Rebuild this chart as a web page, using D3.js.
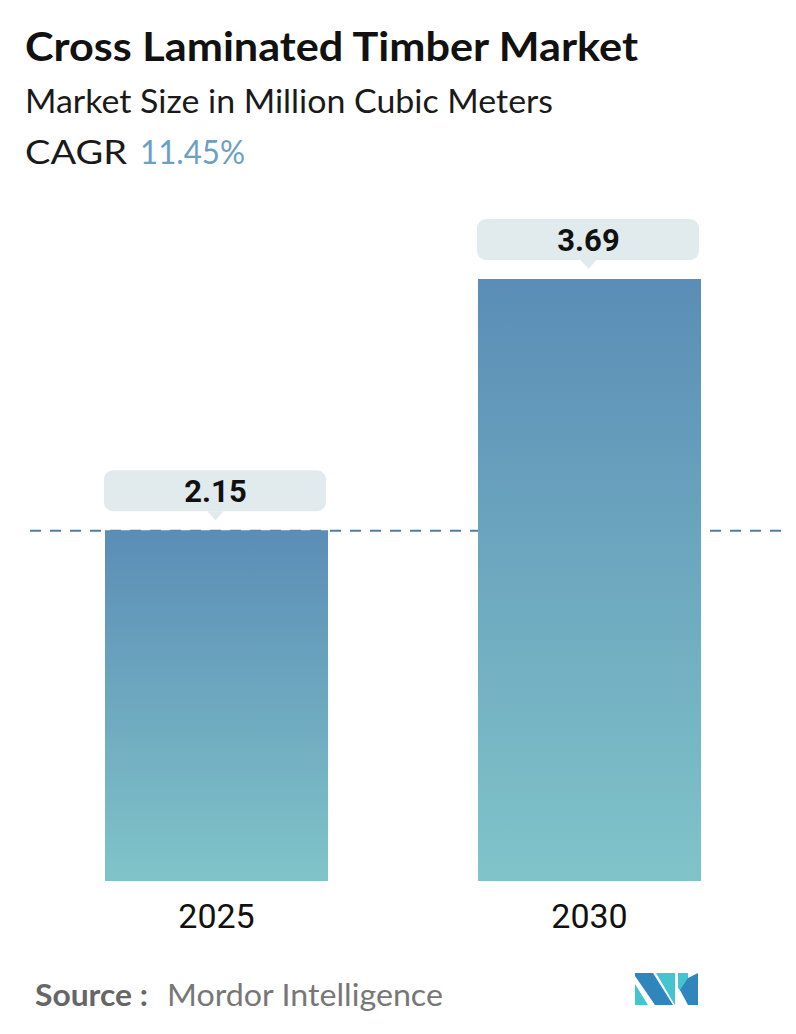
<!DOCTYPE html>
<html>
<head>
<meta charset="utf-8">
<script src="https://cdn.jsdelivr.net/npm/d3@7"></script>
<style>
  body { margin: 0; background: #fff; }
  svg { display: block; }
</style>
</head>
<body>
<div id="graph"></div>
<script>
// chart values
var years = ["2025", "2030"];
var values = [2.15, 3.69];
var valueLabels = ["2.15", "3.69"];
var cagr = "11.45%";

var width = 796,
    height = 1034;

var svg = d3.select("#graph")
    .append("svg")
    .attr("width", width)
    .attr("height", height);

// gradient for the bars
var defs = svg.append("defs");
var grad = defs.append("linearGradient")
    .attr("id", "barGrad")
    .attr("x1", 0).attr("y1", 0)
    .attr("x2", 0).attr("y2", 1);
grad.append("stop").attr("offset", "0%").attr("stop-color", "#5b8db6");
grad.append("stop").attr("offset", "100%").attr("stop-color", "#80c4c9");

// titles
svg.append("text")
    .attr("x", 25)
    .attr("y", 61)
    .attr("textLength", 613)
    .attr("lengthAdjust", "spacingAndGlyphs")
    .style("font-family", "Lato")
    .style("font-weight", "bold")
    .style("font-size", "41px")
    .style("fill", "#111")
    .text("Cross Laminated Timber Market");

svg.append("text")
    .attr("x", 25)
    .attr("y", 113)
    .attr("textLength", 528)
    .attr("lengthAdjust", "spacingAndGlyphs")
    .style("font-family", "Lato")
    .style("font-size", "32px")
    .style("fill", "#1a1a1a")
    .text("Market Size in Million Cubic Meters");

svg.append("text")
    .attr("x", 25)
    .attr("y", 164)
    .attr("textLength", 102)
    .attr("lengthAdjust", "spacingAndGlyphs")
    .style("font-family", "Lato")
    .style("font-size", "32px")
    .style("fill", "#1a1a1a")
    .text("CAGR");

svg.append("text")
    .attr("x", 140)
    .attr("y", 164)
    .attr("textLength", 105)
    .attr("lengthAdjust", "spacingAndGlyphs")
    .style("font-family", "Lato")
    .style("font-size", "32px")
    .style("fill", "#6b9fc6")
    .text(cagr);

// scales
var x = d3.scaleBand()
    .domain(years)
    .range([30, 776])
    .paddingInner(0.402)
    .paddingOuter(0.201);

var y = d3.scaleLinear()
    .domain([0, d3.max(values)])
    .range([881, 279]);

var data = years.map(function(d, i) {
  return { year: d, value: values[i], label: valueLabels[i] };
});

// dashed reference line at first value
svg.append("line")
    .attr("x1", 30)
    .attr("x2", 786)
    .attr("y1", y(values[0]) + 0.5)
    .attr("y2", y(values[0]) + 0.5)
    .style("stroke", "#4d7ea8")
    .style("stroke-width", 2)
    .style("stroke-dasharray", "11,9");

// bars
svg.selectAll(".bar")
    .data(data)
    .enter()
    .append("rect")
    .attr("class", "bar")
    .attr("x", d => x(d.year))
    .attr("y", d => y(d.value))
    .attr("width", x.bandwidth())
    .attr("height", d => y(0) - y(d.value))
    .style("fill", "url(#barGrad)");

// value callouts
var callout = svg.selectAll(".callout")
    .data(data)
    .enter()
    .append("g")
    .attr("class", "callout");

callout.append("rect")
    .attr("x", d => x(d.year) - 1)
    .attr("y", d => y(d.value) - 60)
    .attr("width", x.bandwidth() - 1)
    .attr("height", 41)
    .attr("rx", 9)
    .style("fill", "#e1eaed");

callout.append("path")
    .attr("d", function(d) {
      var cx = x(d.year) + x.bandwidth() / 2 - 1;
      var top = y(d.value) - 19;
      return "M" + (cx - 8) + "," + top + "L" + cx + "," + (top + 9) + "L" + (cx + 8) + "," + top + "Z";
    })
    .style("fill", "#e1eaed");

callout.append("text")
    .attr("x", d => x(d.year) + x.bandwidth() / 2 - 1)
    .attr("y", d => y(d.value) - 28)
    .attr("text-anchor", "middle")
    .style("font-family", "Roboto")
    .style("font-weight", "bold")
    .style("font-size", "31px")
    .style("fill", "#111")
    .text(d => d.label);

// year labels
svg.selectAll(".year")
    .data(data)
    .enter()
    .append("text")
    .attr("class", "year")
    .attr("x", d => x(d.year) + x.bandwidth() / 2)
    .attr("y", 928)
    .attr("text-anchor", "middle")
    .style("font-family", "Roboto")
    .style("font-size", "34px")
    .style("fill", "#111")
    .text(d => d.year);

// source
svg.append("text")
    .attr("x", 35)
    .attr("y", 1006)
    .attr("textLength", 113)
    .attr("lengthAdjust", "spacingAndGlyphs")
    .style("font-family", "Lato")
    .style("font-weight", "bold")
    .style("font-size", "31px")
    .style("fill", "#666")
    .text("Source :");

svg.append("text")
    .attr("x", 167)
    .attr("y", 1006)
    .attr("textLength", 276)
    .attr("lengthAdjust", "spacingAndGlyphs")
    .style("font-family", "Lato")
    .style("font-size", "31px")
    .style("fill", "#777")
    .text("Mordor Intelligence");

// logo
var logo = svg.append("g");
var dark = "#2f86bd", teal = "#45c4cf";
logo.append("polygon").attr("points", "635,984 635,1005 648,1005").style("fill", teal);
logo.append("polygon").attr("points", "635,973 653,973 673,1005 655,1005 635,976").style("fill", dark);
logo.append("polygon").attr("points", "656,973 675,973 675,1005 673,1002").style("fill", teal);
logo.append("polygon").attr("points", "678,973 688,973 688,1000 678,988").style("fill", teal);
logo.append("polygon").attr("points", "680,990 688,978 698,973 698,1005 688,1005").style("fill", dark);
</script>
</body>
</html>
